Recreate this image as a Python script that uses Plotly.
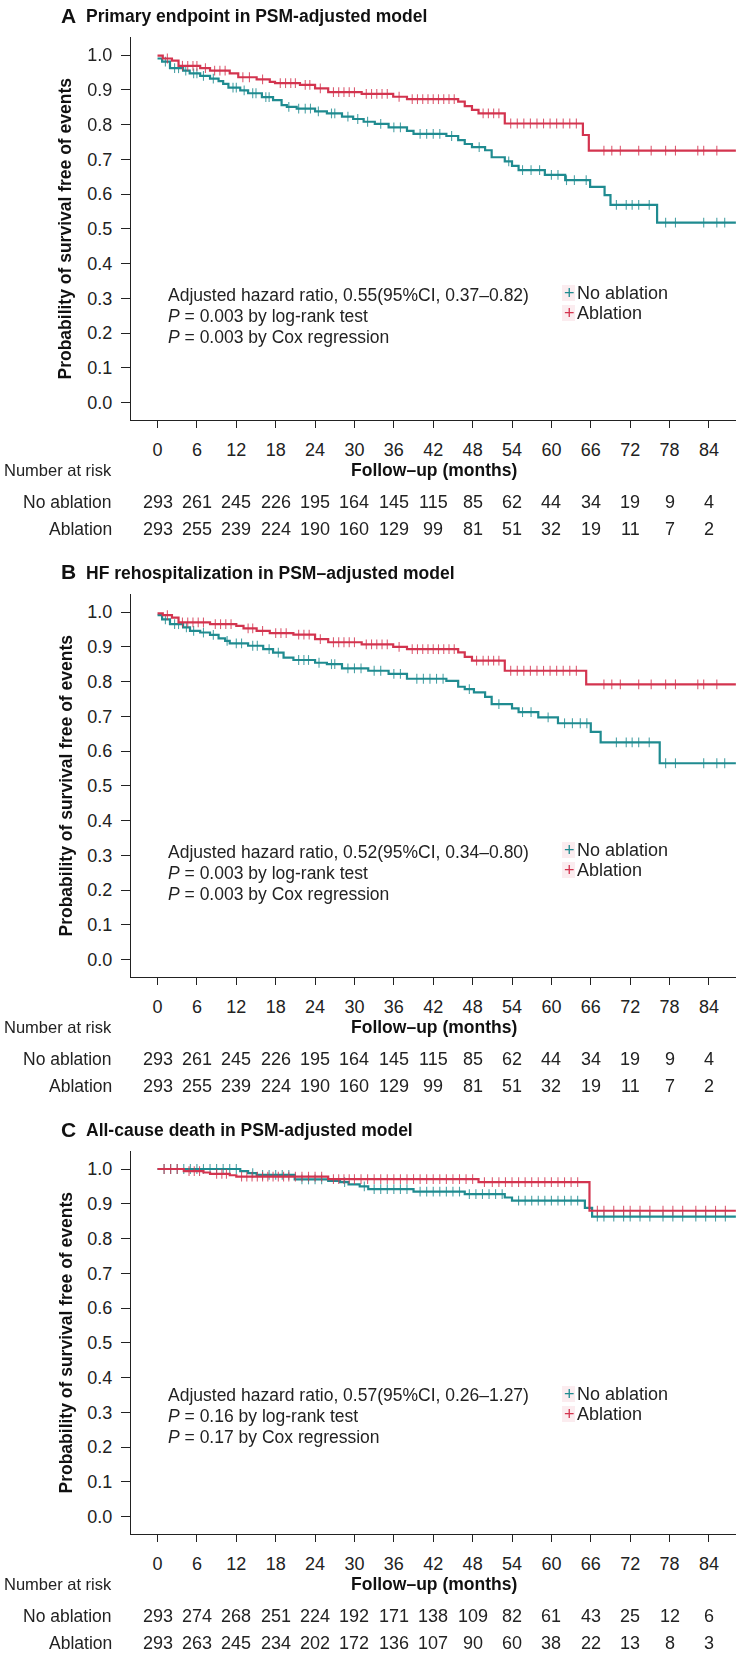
import plotly.graph_objects as go

W, H = 739, 1655
FONT = "Liberation Sans, Arial, Helvetica, sans-serif"
TEAL = "#1f8b90"
RED = "#d3344f"

months = list(range(0, 85, 6))
x_end = 88.1

# ---------------- Panel A : primary endpoint ----------------
a_no_t = [0, 0.7, 1.9, 3.9, 4.9, 6.5, 8.0, 9.3, 10.0, 10.8, 12.6, 13.8, 15.9, 17.6, 18.9, 19.7, 21.2, 24.0,
          25.8, 28.1, 29.8, 31.4, 33.1, 35.2, 38.0, 39.0, 44.0, 45.8, 46.8, 47.9, 49.9, 50.9, 52.9, 54.0,
          55.0, 59.0, 62.1, 65.9, 68.1, 69.0, 76.1]
a_no_s = [0.990, 0.981, 0.962, 0.955, 0.947, 0.940, 0.932, 0.925, 0.917, 0.906, 0.898, 0.890, 0.879, 0.870,
          0.856, 0.851, 0.846, 0.838, 0.832, 0.823, 0.816, 0.808, 0.802, 0.792, 0.782, 0.773, 0.767, 0.755,
          0.744, 0.735, 0.726, 0.706, 0.694, 0.681, 0.669, 0.655, 0.640, 0.621, 0.597, 0.569, 0.518]
a_ab_t = [0, 0.8, 2.2, 3.2, 6.5, 8.0, 11.0, 12.3, 15.1, 17.1, 17.9, 21.7, 24.0, 26.0, 31.1, 35.9, 38.0, 45.8,
          46.8, 47.9, 48.9, 52.9, 64.8, 65.7]
a_ab_s = [0.998, 0.990, 0.984, 0.969, 0.962, 0.955, 0.947, 0.936, 0.930, 0.923, 0.919, 0.914, 0.904, 0.893,
          0.888, 0.880, 0.873, 0.866, 0.853, 0.842, 0.832, 0.803, 0.770, 0.725]
a_no_cens = [1.2, 2.6, 3.2, 4.3, 5.5, 6.0, 7.0, 8.5, 11.5, 12.0, 13.2, 14.5, 15.0, 16.5, 17.0, 20.0, 21.5, 22.5,
             23.3, 24.5, 26.5, 27.0, 29.0, 30.5, 32.0, 34.0, 36.0, 37.0, 40.0, 41.0, 42.0, 43.0, 44.8, 49.0,
             53.5, 55.6, 56.9, 58.2, 60.0, 61.0, 62.3, 63.5, 65.3, 69.9, 71.4, 72.3, 73.3, 74.9, 77.4, 78.9,
             83.2, 85.2, 86.4]
a_ab_cens = [1.5, 3.8, 4.6, 5.4, 6.0, 7.3, 8.7, 9.5, 10.3, 13.0, 14.0, 16.0, 18.7, 19.5, 20.3, 21.0, 22.5, 23.2,
             24.8, 26.8, 27.6, 28.4, 29.2, 30.0, 31.8, 32.6, 33.4, 34.2, 35.0, 36.8, 38.8, 39.6, 40.4, 41.2,
             42.0, 42.8, 43.6, 44.4, 45.2, 49.6, 50.4, 51.2, 52.0, 53.8, 54.8, 55.8, 56.8, 57.8, 58.8, 59.8,
             60.8, 61.8, 62.8, 63.8, 68.0, 69.2, 70.5, 73.3, 75.2, 77.4, 78.9, 82.3, 83.2, 85.2]
a_risk_no = [293, 261, 245, 226, 195, 164, 145, 115, 85, 62, 44, 34, 19, 9, 4]
a_risk_ab = [293, 255, 239, 224, 190, 160, 129, 99, 81, 51, 32, 19, 11, 7, 2]

# ---------------- Panel B : HF rehospitalization ----------------
b_no_t = [0, 0.7, 1.9, 3.9, 4.95, 6.5, 8.0, 9.3, 10.3, 11.0, 13.8, 16.1, 17.6, 19.2, 20.7, 24.0, 25.8, 28.1,
          32.1, 35.2, 38.0, 44.0, 45.8, 46.8, 48.2, 49.9, 50.9, 54.0, 55.0, 58.0, 61.0, 66.0, 67.5, 76.5]
b_no_s = [0.991, 0.979, 0.965, 0.956, 0.946, 0.941, 0.934, 0.924, 0.917, 0.910, 0.903, 0.893, 0.883, 0.869,
          0.862, 0.854, 0.850, 0.838, 0.831, 0.822, 0.808, 0.802, 0.785, 0.778, 0.769, 0.756, 0.735, 0.723,
          0.712, 0.697, 0.680, 0.655, 0.625, 0.565]
b_ab_t = [0, 0.8, 2.2, 3.2, 8.0, 12.0, 13.1, 15.1, 17.1, 20.7, 24.0, 26.0, 31.1, 35.9, 38.0, 45.8, 46.8, 47.9,
          52.9, 65.3]
b_ab_s = [0.996, 0.991, 0.984, 0.970, 0.965, 0.960, 0.953, 0.946, 0.939, 0.935, 0.922, 0.913, 0.907, 0.900,
          0.893, 0.884, 0.871, 0.860, 0.831, 0.792]
b_no_cens = [1.2, 2.6, 3.2, 4.4, 5.5, 7.0, 8.5, 10.6, 12.0, 12.8, 14.5, 15.2, 17.0, 18.4, 21.5, 22.3, 23.0,
             24.6, 26.5, 27.0, 29.0, 30.0, 31.0, 33.0, 34.0, 36.0, 37.0, 39.5, 40.5, 41.5, 42.5, 43.5, 47.5,
             52.0, 55.6, 56.9, 59.5, 62.0, 63.2, 64.4, 65.4, 69.9, 71.4, 72.3, 73.3, 74.9, 77.4, 78.9, 83.2,
             85.2, 86.4]
b_ab_cens = [1.5, 3.8, 4.6, 5.4, 6.2, 7.0, 8.8, 9.6, 10.4, 11.2, 13.8, 14.5, 16.0, 18.0, 18.8, 19.6, 21.5,
             22.3, 23.1, 24.8, 26.8, 27.6, 28.4, 29.2, 30.0, 31.8, 32.6, 33.4, 34.2, 35.0, 36.8, 38.8, 39.6,
             40.4, 41.2, 42.0, 42.8, 43.6, 44.4, 45.2, 48.6, 49.6, 50.4, 51.2, 52.0, 53.8, 54.8, 55.8, 56.8,
             57.8, 58.8, 59.8, 60.8, 61.8, 62.8, 63.8, 68.0, 69.2, 70.5, 73.3, 75.2, 77.4, 78.9, 82.3, 83.2,
             85.2]
b_risk_no = [293, 261, 245, 226, 195, 164, 145, 115, 85, 62, 44, 34, 19, 9, 4]
b_risk_ab = [293, 255, 239, 224, 190, 160, 129, 99, 81, 51, 32, 19, 11, 7, 2]

# ---------------- Panel C : all-cause death ----------------
c_no_t = [0, 12.6, 13.8, 15.1, 20.9, 26.0, 27.8, 29.1, 30.8, 32.1, 39.0, 46.8, 52.9, 54.0, 65.1, 66.2]
c_no_s = [1.0, 0.994, 0.988, 0.983, 0.970, 0.966, 0.962, 0.956, 0.950, 0.942, 0.935, 0.928, 0.918, 0.909,
          0.888, 0.863]
c_ab_t = [0, 4.0, 7.0, 8.0, 11.0, 12.0, 26.0, 48.9, 65.8]
c_ab_s = [1.0, 0.994, 0.990, 0.986, 0.982, 0.978, 0.971, 0.962, 0.880]
c_no_cens = [1, 2, 3, 4, 5, 6, 7, 8, 9, 10, 11, 12, 14.5, 16, 17, 18, 19, 20, 22, 23, 24, 25, 28.5, 31.5, 33,
             34, 35, 36, 37, 38, 40, 41, 42, 43, 44, 45, 46, 47.5, 48.5, 49.5, 50.5, 51.5, 52.5, 55, 56, 57,
             58, 59, 60, 61, 62, 63, 64, 67, 68, 69.5, 71, 72, 73.5, 75, 77, 78.5, 80, 82, 83.5, 85, 86.5]
c_ab_cens = [1, 2, 3, 4.8, 5.6, 6.4, 9, 9.8, 10.5, 12.8, 13.6, 14.4, 15.2, 16, 16.8, 17.6, 18.4, 19.2, 20, 21,
             22, 23, 24, 25, 26.8, 27.6, 28.4, 29.2, 30, 31, 32, 33, 34, 35, 36, 37, 38, 39, 40, 41, 42, 43,
             44, 45, 46, 47, 48, 49.8, 51, 52, 53, 54, 55, 56, 57, 58, 59, 60, 61, 62, 63, 64, 67, 68, 69.5,
             71, 72, 73.5, 75, 77, 78.5, 80, 82, 83.5, 85, 86.5]
c_risk_no = [293, 274, 268, 251, 224, 192, 171, 138, 109, 82, 61, 43, 25, 12, 6]
c_risk_ab = [293, 263, 245, 234, 202, 172, 136, 107, 90, 60, 38, 22, 13, 8, 3]

titles = [("A", "Primary endpoint in PSM-adjusted model"),
          ("B", "HF rehospitalization in PSM–adjusted model"),
          ("C", "All-cause death in PSM-adjusted model")]
stats = [["Adjusted hazard ratio, 0.55(95%CI, 0.37–0.82)", "<i>P</i> = 0.003 by log-rank test",
          "<i>P</i> = 0.003 by Cox regression"],
         ["Adjusted hazard ratio, 0.52(95%CI, 0.34–0.80)", "<i>P</i> = 0.003 by log-rank test",
          "<i>P</i> = 0.003 by Cox regression"],
         ["Adjusted hazard ratio, 0.57(95%CI, 0.26–1.27)", "<i>P</i> = 0.16 by log-rank test",
          "<i>P</i> = 0.17 by Cox regression"]]
groups = ["No ablation", "Ablation"]

panels = [
    dict(no=(a_no_t, a_no_s, a_no_cens), ab=(a_ab_t, a_ab_s, a_ab_cens), risk=(a_risk_no, a_risk_ab)),
    dict(no=(b_no_t, b_no_s, b_no_cens), ab=(b_ab_t, b_ab_s, b_ab_cens), risk=(b_risk_no, b_risk_ab)),
    dict(no=(c_no_t, c_no_s, c_no_cens), ab=(c_ab_t, c_ab_s, c_ab_cens), risk=(c_risk_no, c_risk_ab)),
]

# layout geometry (pixels)
PERIOD = 557
X_LEFT, X_RIGHT = 131, 736
Y_TOP, Y_BOT = 37, 420
stat_y = [295, 295 + PERIOD, 1395]
leg_y = [293, 293 + PERIOD, 1394]


def px(x):
    return x / W


def py(y):
    return 1 - y / H


def surv_at(t, s, c):
    v = s[0]
    for ti, si in zip(t, s):
        if ti <= c:
            v = si
    return v


fig = go.Figure()
annotations = []
shapes = []

for i, p in enumerate(panels):
    off = i * PERIOD
    sfx = "" if i == 0 else str(i + 1)
    xa, ya = "x" + sfx, "y" + sfx
    for key, color, name in (("no", TEAL, groups[0]), ("ab", RED, groups[1])):
        t, s, cens = p[key]
        fig.add_trace(go.Scatter(x=t + [x_end], y=s + [s[-1]], mode="lines",
                                 line=dict(color=color, width=2.2, shape="hv"),
                                 xaxis=xa, yaxis=ya, showlegend=False, name=name))
        fig.add_trace(go.Scatter(x=cens, y=[surv_at(t, s, c) for c in cens], mode="markers",
                                 marker=dict(symbol="line-ns", size=7, line=dict(color=color, width=1.1)),
                                 opacity=0.8, xaxis=xa, yaxis=ya, showlegend=False, name=name))

    top, bot = Y_TOP + off, Y_BOT + off
    fig.layout["xaxis" + sfx] = dict(domain=[px(X_LEFT), px(X_RIGHT)], anchor=ya, range=[-4.04, 88.12],
                                     tickvals=months, ticks="outside", ticklen=7, tickwidth=1.2,
                                     tickcolor="#222", showline=True, linecolor="#222", linewidth=1.3,
                                     showgrid=False, zeroline=False, ticklabelstandoff=6, fixedrange=True,
                                     tickfont=dict(size=18, color="#222", family=FONT))
    fig.layout["yaxis" + sfx] = dict(domain=[py(bot), py(top)], anchor=xa, range=[-0.0498, 1.0518],
                                     tickvals=[k / 10 for k in range(11)], tickformat=".1f", ticks="outside",
                                     ticklen=9, tickwidth=1.2, tickcolor="#222", showline=True,
                                     linecolor="#222", linewidth=1.3, showgrid=False, zeroline=False,
                                     ticklabelstandoff=5, fixedrange=True,
                                     tickfont=dict(size=18, color="#222", family=FONT))

    # panel title
    letter, ttl = titles[i]
    annotations.append(dict(x=px(59), y=py(15 + off), xref="paper", yref="paper", text="<b>%s</b>" % letter,
                            showarrow=False, xanchor="left", yanchor="middle",
                            font=dict(size=21, color="#111", family=FONT)))
    annotations.append(dict(x=px(84), y=py(16 + off), xref="paper", yref="paper", text="<b>%s</b>" % ttl,
                            showarrow=False, xanchor="left", yanchor="middle",
                            font=dict(size=17.5, color="#111", family=FONT)))
    # y axis title
    annotations.append(dict(x=px(65), y=py((top + bot) / 2), xref="paper", yref="paper",
                            text="<b>Probability of survival free of events</b>", textangle=-90,
                            showarrow=False, xanchor="center", yanchor="middle",
                            font=dict(size=17.5, color="#111", family=FONT)))
    # statistics text
    for j, line in enumerate(stats[i]):
        annotations.append(dict(x=px(166), y=py(stat_y[i] + 21 * j), xref="paper", yref="paper", text=line,
                                showarrow=False, xanchor="left", yanchor="middle",
                                font=dict(size=17.5, color="#222", family=FONT)))
    # legend
    for j, (name, color) in enumerate(zip(groups, (TEAL, RED))):
        yy = leg_y[i] + 20 * j
        shapes.append(dict(type="rect", xref="paper", yref="paper", x0=px(562), x1=px(575),
                           y0=py(yy + 8), y1=py(yy - 8), fillcolor="#fbecef", line=dict(width=0),
                           layer="below"))
        annotations.append(dict(x=px(569), y=py(yy), xref="paper", yref="paper", text="+",
                                showarrow=False, xanchor="center", yanchor="middle",
                                font=dict(size=18, color=color, family=FONT)))
        annotations.append(dict(x=px(575), y=py(yy), xref="paper", yref="paper", text=name,
                                showarrow=False, xanchor="left", yanchor="middle",
                                font=dict(size=18, color="#222", family=FONT)))
    # x axis title and risk table
    annotations.append(dict(x=px(114), y=py(bot + 50), xref="paper", yref="paper", text="Number at risk",
                            showarrow=False, xanchor="right", yanchor="middle",
                            font=dict(size=16.5, color="#222", family=FONT)))
    annotations.append(dict(x=px((X_LEFT + X_RIGHT) / 2), y=py(bot + 50), xref="paper", yref="paper",
                            text="<b>Follow–up (months)</b>", showarrow=False, xanchor="center",
                            yanchor="middle", font=dict(size=17.5, color="#111", family=FONT)))
    for j, (name, risk) in enumerate(zip(groups, p["risk"])):
        yy = bot + 82 + 27 * j
        annotations.append(dict(x=px(114), y=py(yy), xref="paper", yref="paper", text=name,
                                showarrow=False, xanchor="right", yanchor="middle",
                                font=dict(size=17.5, color="#222", family=FONT)))
        for m, n in zip(months, risk):
            annotations.append(dict(x=m, y=py(yy), xref=xa, yref="paper", text=str(n), showarrow=False,
                                    xanchor="center", yanchor="middle",
                                    font=dict(size=18, color="#222", family=FONT)))

fig.update_layout(width=W, height=H, margin=dict(l=0, r=0, t=0, b=0), paper_bgcolor="white",
                  plot_bgcolor="white", showlegend=False, annotations=annotations, shapes=shapes,
                  font=dict(family=FONT))

fig.write_html("out.html", config={"displayModeBar": False},
               post_script="document.body.style.margin='0';")
